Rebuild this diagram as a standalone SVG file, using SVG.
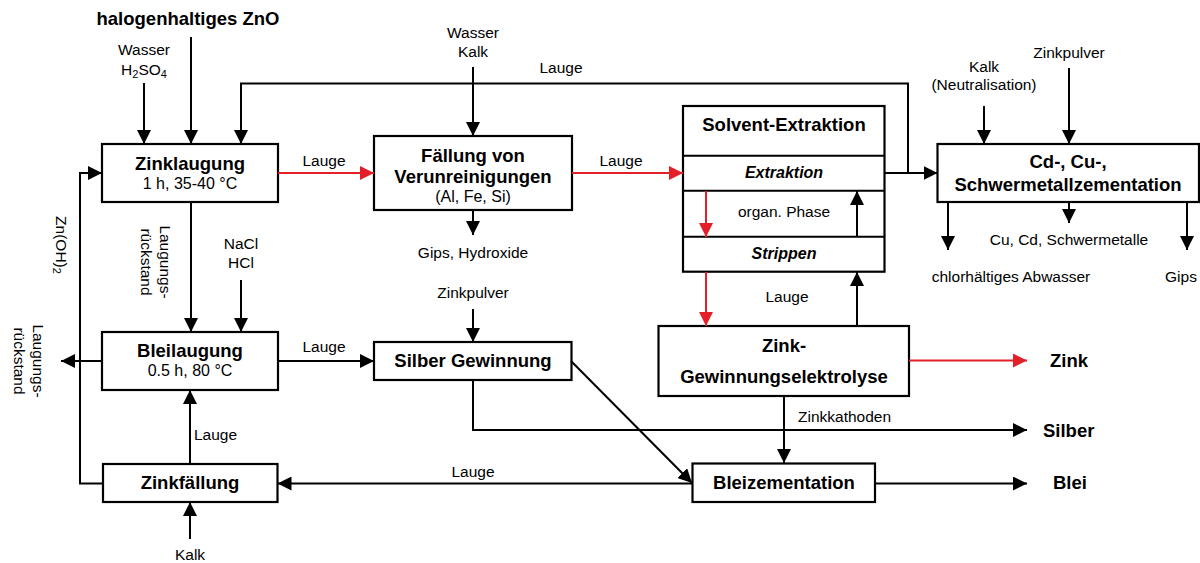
<svg xmlns="http://www.w3.org/2000/svg" width="1200" height="563" viewBox="0 0 1200 563">
<defs>
<style>
text{font-family:"Liberation Sans",Arial,sans-serif;fill:#000}
.b{font-weight:bold;font-size:18.5px}
.s{font-size:16px}
.l{font-size:15.5px}
.bi{font-weight:bold;font-style:italic;font-size:16px}
.box{fill:#fff;stroke:#000;stroke-width:2.2}
.k{fill:none;stroke:#000;stroke-width:2}
.r{fill:none;stroke:#e3202a;stroke-width:2}
</style>
<marker id="ak" markerUnits="userSpaceOnUse" markerWidth="15" markerHeight="14" refX="14" refY="7" orient="auto"><path d="M0,0 L14,7 L0,14 z" fill="#000"/></marker>
<marker id="ar" markerUnits="userSpaceOnUse" markerWidth="15" markerHeight="14" refX="14" refY="7" orient="auto"><path d="M0,0 L14,7 L0,14 z" fill="#e3202a"/></marker>
</defs>
<rect width="1200" height="563" fill="#fff"/>

<g id="zinklaugung">
<rect class="box" x="102" y="144" width="176" height="58"/>
<text class="b" x="190" y="170" text-anchor="middle">Zinklaugung</text>
<text class="s" x="190" y="189" text-anchor="middle">1 h, 35-40 °C</text>
</g>
<g id="faellung">
<rect class="box" x="374" y="136" width="198" height="74"/>
<text class="b" x="473" y="162" text-anchor="middle">Fällung von</text>
<text class="b" x="473" y="183" text-anchor="middle">Verunreinigungen</text>
<text class="s" x="473" y="202" text-anchor="middle">(Al, Fe, Si)</text>
</g>
<g id="solvent-extraktion">
<rect class="box" x="683" y="106" width="201.5" height="165.7"/>
<path class="k" d="M683,155.7 H884.5 M683,190.7 H884.5 M683,236.7 H884.5"/>
<text class="b" x="784" y="131" text-anchor="middle">Solvent-Extraktion</text>
<text class="bi" x="784" y="178" text-anchor="middle">Extraktion</text>
<text class="l" x="784" y="217" text-anchor="middle">organ. Phase</text>
<text class="bi" x="784" y="259" text-anchor="middle">Strippen</text>
</g>
<g id="zementation">
<rect class="box" x="937.5" y="144" width="261.5" height="58"/>
<text class="b" x="1068" y="168" text-anchor="middle">Cd-, Cu-,</text>
<text class="b" x="1068" y="191" text-anchor="middle">Schwermetallzementation</text>
</g>
<g id="bleilaugung">
<rect class="box" x="102" y="332" width="176" height="58"/>
<text class="b" x="190" y="357" text-anchor="middle">Bleilaugung</text>
<text class="s" x="190" y="376" text-anchor="middle">0.5 h, 80 °C</text>
</g>
<g id="silber">
<rect class="box" x="374" y="342" width="197.5" height="38"/>
<text class="b" x="473" y="367" text-anchor="middle">Silber Gewinnung</text>
</g>
<g id="elektrolyse">
<rect class="box" x="658.5" y="326" width="250.5" height="70"/>
<text class="b" x="784" y="352" text-anchor="middle">Zink-</text>
<text class="b" x="784" y="383" text-anchor="middle">Gewinnungselektrolyse</text>
</g>
<g id="zinkfaellung">
<rect class="box" x="103" y="464" width="174.5" height="38"/>
<text class="b" x="190" y="489" text-anchor="middle">Zinkfällung</text>
</g>
<g id="bleizementation">
<rect class="box" x="692.5" y="463.5" width="182.5" height="38.5"/>
<text class="b" x="784" y="489" text-anchor="middle">Bleizementation</text>
</g>

<g id="connectors">
<path class="k" marker-end="url(#ak)" d="M144,83 V144"/>
<path class="k" marker-end="url(#ak)" d="M191,37 V144"/>
<path class="k" marker-end="url(#ak)" d="M908,173 V83.5 H241 V144"/>
<path class="k" marker-end="url(#ak)" d="M884,173 H937.5"/>
<path class="k" marker-end="url(#ak)" d="M473,67 V136"/>
<path class="k" marker-end="url(#ak)" d="M473,210 V235"/>
<path class="k" marker-end="url(#ak)" d="M103,483.5 H80 V173 H102"/>
<path class="k" marker-end="url(#ak)" d="M191,202 V332"/>
<path class="k" marker-end="url(#ak)" d="M241,280 V332"/>
<path class="k" marker-end="url(#ak)" d="M102,361 H61"/>
<path class="k" marker-end="url(#ak)" d="M190,464 V390"/>
<path class="k" marker-end="url(#ak)" d="M190,539 V502"/>
<path class="k" marker-end="url(#ak)" d="M278,361 H374"/>
<path class="k" marker-end="url(#ak)" d="M473,309 V342"/>
<path class="k" marker-end="url(#ak)" d="M473,380 V430 H1027"/>
<path class="k" marker-end="url(#ak)" d="M571,361 L692,483"/>
<path class="k" marker-end="url(#ak)" d="M692,483.5 H277.5"/>
<path class="k" marker-end="url(#ak)" d="M784,396 V463"/>
<path class="k" marker-end="url(#ak)" d="M875,483.5 H1027"/>
<path class="k" marker-end="url(#ak)" d="M857,326 V272"/>
<path class="k" marker-end="url(#ak)" d="M857,237 V191"/>
<path class="k" marker-end="url(#ak)" d="M984,106 V144"/>
<path class="k" marker-end="url(#ak)" d="M1069,68 V144"/>
<path class="k" marker-end="url(#ak)" d="M948,202 V250"/>
<path class="k" marker-end="url(#ak)" d="M1069,202 V223"/>
<path class="k" marker-end="url(#ak)" d="M1187,202 V250"/>
<path class="r" marker-end="url(#ar)" d="M278,173 H374"/>
<path class="r" marker-end="url(#ar)" d="M572,173 H683"/>
<path class="r" marker-end="url(#ar)" d="M706,191 V237"/>
<path class="r" marker-end="url(#ar)" d="M706,272 V326"/>
<path class="r" marker-end="url(#ar)" d="M909,360.5 H1027"/>
</g>

<g id="labels">
<text class="b" x="188" y="25" text-anchor="middle">halogenhaltiges ZnO</text>
<text class="l" x="144" y="55" text-anchor="middle">Wasser</text>
<text class="l" x="144" y="75" text-anchor="middle">H<tspan font-size="11" dy="3">2</tspan><tspan dy="-3">SO</tspan><tspan font-size="11" dy="3">4</tspan></text>
<text class="l" x="473" y="38" text-anchor="middle">Wasser</text>
<text class="l" x="473" y="57" text-anchor="middle">Kalk</text>
<text class="l" x="561" y="73" text-anchor="middle">Lauge</text>
<text class="l" x="324" y="166" text-anchor="middle">Lauge</text>
<text class="l" x="621" y="166" text-anchor="middle">Lauge</text>
<text class="l" x="473" y="258" text-anchor="middle">Gips, Hydroxide</text>
<text class="l" x="984" y="72" text-anchor="middle">Kalk</text>
<text class="l" x="984" y="90" text-anchor="middle">(Neutralisation)</text>
<text class="l" x="1069" y="58" text-anchor="middle">Zinkpulver</text>
<text class="l" x="1069" y="245" text-anchor="middle">Cu, Cd, Schwermetalle</text>
<text class="l" x="1011" y="282" text-anchor="middle">chlorhältiges Abwasser</text>
<text class="l" x="1181" y="282" text-anchor="middle">Gips</text>
<text class="l" x="787" y="302" text-anchor="middle">Lauge</text>
<text class="l" x="241" y="249" text-anchor="middle">NaCl</text>
<text class="l" x="241" y="268" text-anchor="middle">HCl</text>
<text class="l" transform="translate(160,262) rotate(90)" text-anchor="middle"><tspan x="0" y="0">Laugungs-</tspan><tspan x="0" y="19">rückstand</tspan></text>
<text class="l" transform="translate(56,245) rotate(90)" text-anchor="middle">Zn(OH)<tspan font-size="11" dy="3">2</tspan></text>
<text class="l" transform="translate(33,361) rotate(90)" text-anchor="middle"><tspan x="0" y="0">Laugungs-</tspan><tspan x="0" y="19">rückstand</tspan></text>
<text class="l" x="324" y="352" text-anchor="middle">Lauge</text>
<text class="l" x="473" y="298" text-anchor="middle">Zinkpulver</text>
<text class="l" x="194" y="440">Lauge</text>
<text class="l" x="190" y="560" text-anchor="middle">Kalk</text>
<text class="l" x="473" y="477" text-anchor="middle">Lauge</text>
<text class="l" x="798" y="422">Zinkkathoden</text>
<text class="b" x="1050" y="367">Zink</text>
<text class="b" x="1043" y="437">Silber</text>
<text class="b" x="1053" y="489">Blei</text>
</g>
</svg>
